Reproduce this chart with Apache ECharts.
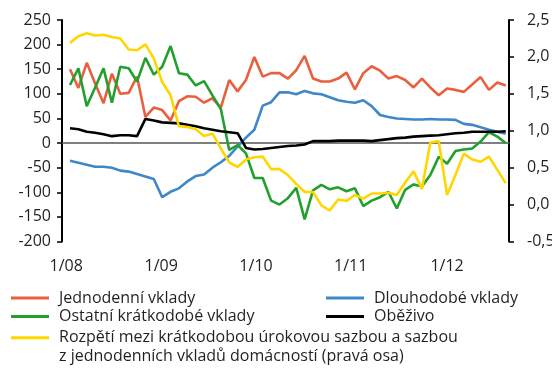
<!DOCTYPE html>
<html>
<head>
<meta charset="utf-8">
<script src="https://cdn.jsdelivr.net/npm/echarts@6/dist/echarts.min.js"></script>
<style>
  html, body { margin: 0; padding: 0; background: #fff; }
  #chart { width: 552px; height: 368px; }
</style>
</head>
<body>
<div id="chart"></div>
<script>
// Year labels on the time axis and where they sit along the series index
const yearLabels = ['1/08', '1/09', '1/10', '1/11', '1/12'];
const yearLabelPos = [-0.45, 10.88, 22.2, 33.5, 45.0];

// Year-on-year changes, CZK bn (left axis)
const overnightDeposits = [150, 112, 163, 121, 81, 141, 100, 102, 135, 53,
  72, 67, 46, 85, 95, 94, 82, 91, 72, 128,
  105, 128, 175, 135, 142, 142, 131, 148, 177, 131,
  125, 125, 131, 143, 109, 142, 156, 147, 131, 136,
  128, 113, 131, 113, 97, 111, 108, 104, 119, 134,
  108, 123, 117];
const otherShortTerm = [118, 152, 75, 113, 152, 82, 155, 152, 125, 173,
  139, 155, 197, 142, 139, 117, 126, 97, 69, -14,
  -4, -21, -71, -71, -117, -125, -112, -91, -155, -96,
  -85, -94, -90, -98, -92, -128, -117, -110, -99, -133,
  -95, -84, -88, -65, -28, -42, -16, -13, -11, 3,
  22, 13, 0];
const longTermDeposits = [-36, -40, -44, -48, -48, -50, -56, -58, -63, -68,
  -73, -110, -99, -92, -78, -67, -64, -50, -39, -26,
  -7, 11, 27, 76, 83, 103, 103, 99, 106, 101,
  99, 93, 87, 84, 82, 87, 75, 57, 53, 50,
  49, 48, 48, 49, 48, 48, 47, 39, 37, 32,
  27, 23, 19];
const currency = [30, 28, 23, 21, 18, 14, 16, 16, 14, 49,
  46, 42, 41, 40, 37, 34, 30, 27, 24, 22,
  20, -10, -13, -12, -10, -8, -6, -5, -3, 4,
  4, 4, 5, 5, 5, 5, 4, 6, 8, 10,
  11, 13, 14, 15, 16, 18, 20, 21, 23, 23,
  23, 23, 24];
// Spread, percentage points (right axis)
const rateSpread = [2.19, 2.28, 2.32, 2.29, 2.30, 2.27, 2.25, 2.10, 2.09, 2.17,
  1.98, 1.66, 1.48, 1.06, 1.05, 1.02, 0.93, 0.96, 0.76, 0.57,
  0.51, 0.61, 0.64, 0.65, 0.48, 0.48, 0.40, 0.28, 0.17, 0.17,
  -0.01, -0.08, 0.07, 0.05, 0.13, 0.08, 0.15, 0.15, 0.16, 0.13,
  0.30, 0.45, 0.21, 0.84, 0.86, 0.13, 0.40, 0.69, 0.61, 0.58,
  0.65, 0.47, 0.29];

const names = {
  overnight: 'Jednodenní vklady',
  longTerm: 'Dlouhodobé vklady',
  other: 'Ostatní krátkodobé vklady',
  currency: 'Oběživo',
  spread: 'Rozpětí mezi krátkodobou úrokovou sazbou a sazbou'
};
const spreadSecondLine = 'z jednodenních vkladů domácností (pravá osa)';

const FONT = '"Open Sans", "Noto Sans", sans-serif';
const TEXT = '#231f20';
const X_MIN = -0.955, X_MAX = 52.39;

const toPairs = arr => arr.map((v, i) => [i, v]);

function lineSeries(name, data, color, yAxisIndex) {
  return {
    name: name,
    type: 'line',
    xAxisIndex: 0,
    yAxisIndex: yAxisIndex,
    data: toPairs(data),
    showSymbol: false,
    symbol: 'none',
    animation: false,
    lineStyle: { color: color, width: 2.6 },
    itemStyle: { color: color }
  };
}

const legendCommon = {
  orient: 'vertical',
  padding: 0,
  itemGap: 0,
  itemWidth: 38,
  itemHeight: 3,
  icon: 'rect',
  selectedMode: false,
  textStyle: { fontFamily: FONT, fontSize: 16, color: TEXT, lineHeight: 18.5, padding: [0, 0, 0, 5] }
};

const labelMap = {};
yearLabelPos.forEach((p, k) => { labelMap[p] = yearLabels[k]; });

const chart = echarts.init(document.getElementById('chart'), null, { renderer: 'canvas' });
chart.setOption({
  animation: false,
  backgroundColor: '#ffffff',
  grid: { left: 62, right: 43, top: 20, bottom: 126.5, containLabel: false, outerBoundsMode: 'none' },
  xAxis: [
    {
      type: 'value', min: X_MIN, max: X_MAX,
      axisLine: { show: false, onZero: false },
      axisTick: { show: false },
      splitLine: { show: false },
      axisLabel: {
        customValues: yearLabelPos,
        formatter: v => labelMap[v] || '',
        fontFamily: FONT, fontSize: 16, color: TEXT, margin: 17
      }
    },
    {
      type: 'value', min: X_MIN, max: X_MAX, position: 'bottom',
      axisLine: { show: true, onZero: true, onZeroAxisIndex: 0, lineStyle: { color: '#555555', width: 1.5 } },
      axisTick: { show: false },
      axisLabel: { show: false },
      splitLine: { show: false }
    }
  ],
  yAxis: [
    {
      type: 'value', min: -200, max: 250, interval: 50, position: 'left',
      axisLine: { show: true, onZero: false, lineStyle: { color: '#000', width: 2 } },
      axisTick: { show: true, inside: false, length: 5, lineStyle: { color: '#000', width: 1.5 } },
      splitLine: { show: false },
      axisLabel: { fontFamily: FONT, fontSize: 16, color: TEXT, margin: 11 }
    },
    {
      type: 'value', min: -0.5, max: 2.5, interval: 0.5, position: 'right',
      axisLine: { show: true, onZero: false, lineStyle: { color: '#000', width: 2 } },
      axisTick: { show: true, inside: false, length: 5, lineStyle: { color: '#000', width: 1.5 } },
      splitLine: { show: false },
      axisLabel: {
        fontFamily: FONT, fontSize: 16, color: TEXT, margin: 18, align: 'left',
        formatter: v => v.toFixed(1).replace('.', ',')
      }
    }
  ],
  legend: [
    Object.assign({}, legendCommon, { left: 11, top: 288.75, data: [names.overnight, names.other] }),
    Object.assign({}, legendCommon, { left: 326, top: 288.75, data: [names.longTerm, names.currency] }),
    // the blank first line keeps the swatch level with the first line of text
    Object.assign({}, legendCommon, {
      left: 11, top: 310, data: [names.spread],
      formatter: n => ' \n' + n + '\n' + spreadSecondLine
    })
  ],
  series: [
    lineSeries(names.overnight, overnightDeposits, '#ea5f3d', 0),
    lineSeries(names.longTerm, longTermDeposits, '#3f87c7', 0),
    lineSeries(names.other, otherShortTerm, '#22a02d', 0),
    lineSeries(names.currency, currency, '#000000', 0),
    lineSeries(names.spread, rateSpread, '#ffd600', 1)
  ]
});
</script>
</body>
</html>
